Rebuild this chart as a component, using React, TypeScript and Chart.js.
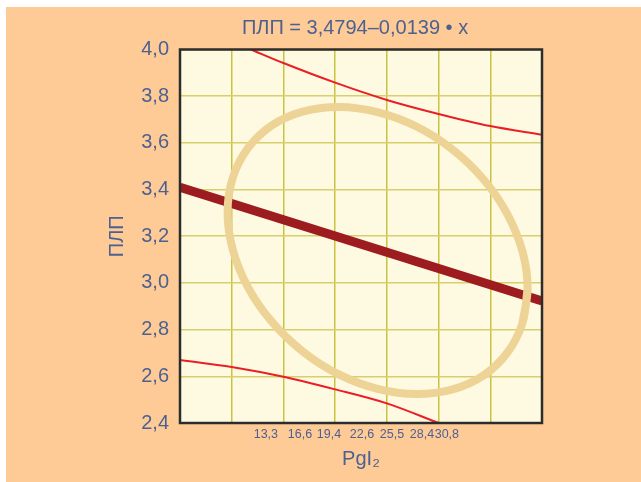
import React, { useEffect, useRef } from 'react';
import { Chart, registerables } from 'chart.js';

Chart.register(...registerables);

// ---- text ----
const titleText = 'ПЛП = 3,4794–0,0139 • x';
const yTitle = 'ПЛП';
const xTitle = 'PgI₂';

// ---- axes ----
const yMin = 2.4;
const yMax = 4.0;
const yStep = 0.2;
const xMin = 5;
const xMax = 40;
const xGridValues = [5, 10, 15, 20, 25, 30, 35, 40];
const xLabelValues = [13.3, 16.6, 19.4, 22.6, 25.5, 28.4, 30.8];

// ---- regression line ----
const regX = [5, 40];
const regY = [3.41, 2.923];

// ---- upper confidence curve ----
const upperX = [11.86, 15, 20, 25, 30, 35, 40];
const upperY = [4.0, 3.942, 3.858, 3.784, 3.724, 3.672, 3.635];

// ---- lower confidence curve ----
const lowerX = [5, 10, 15, 20, 25, 30];
const lowerY = [2.67, 2.64, 2.598, 2.544, 2.484, 2.4];

// ---- ellipse outline (points read around the drawn ellipse, closed) ----
const ellipseX = [
  38.61, 38.11, 36.66, 34.36, 31.36, 27.86, 24.1, 20.35, 16.85, 13.85, 11.55, 10.1,
  9.6, 10.1, 11.55, 13.85, 16.85, 20.35, 24.1, 27.86, 31.36, 34.36, 36.66, 38.11,
  38.61, 38.11,
];
const ellipseY = [
  2.976, 2.828, 2.702, 2.604, 2.544, 2.524, 2.546, 2.608, 2.707, 2.835, 2.983, 3.143,
  3.302, 3.45, 3.576, 3.674, 3.734, 3.754, 3.732, 3.67, 3.571, 3.443, 3.294, 3.135,
  2.976, 2.828,
];

const FONT = "'Liberation Sans', Arial, sans-serif";
const TEXT = '#4d6190';

const toPts = (xs: number[], ys: number[]) => xs.map((x, i) => ({ x, y: ys[i] }));
const fmt = (v: number, d: number) => v.toFixed(d).replace('.', ',');

export default function App() {
  const ref = useRef<HTMLCanvasElement>(null);

  useEffect(() => {
    if (!ref.current) return;

    const framePlugin = {
      id: 'plotFrame',
      beforeDraw(chart: any) {
        const { ctx, chartArea: a } = chart;
        ctx.save();
        ctx.fillStyle = '#FEFAE2';
        ctx.fillRect(a.left, a.top, a.right - a.left, a.bottom - a.top);
        ctx.restore();
      },
      afterDatasetsDraw(chart: any) {
        const { ctx, chartArea: a } = chart;
        ctx.save();
        ctx.strokeStyle = '#2c2c2c';
        ctx.lineWidth = 2.5;
        ctx.strokeRect(a.left, a.top, a.right - a.left, a.bottom - a.top);
        ctx.restore();
      },
    };

    const titleShift = {
      id: 'titleShift',
      afterLayout(chart: any) {
        const t = chart.titleBlock;
        if (t) {
          t.left -= 6;
          t.right -= 6;
        }
      },
    };

    const allXTicks = Array.from(new Set([...xGridValues, ...xLabelValues])).sort((a, b) => a - b);

    const chart = new Chart(ref.current, {
      type: 'scatter',
      data: {
        datasets: [
          {
            data: toPts(ellipseX, ellipseY),
            showLine: true,
            borderColor: '#EED396',
            borderWidth: 8,
            pointRadius: 0,
            tension: 0.34,
            order: 0,
          },
          {
            data: toPts(regX, regY),
            showLine: true,
            borderColor: '#9C1C1F',
            borderWidth: 9,
            pointRadius: 0,
            order: 1,
          },
          {
            data: toPts(upperX, upperY),
            showLine: true,
            borderColor: '#EA1F26',
            borderWidth: 2,
            pointRadius: 0,
            cubicInterpolationMode: 'monotone',
            order: 2,
          },
          {
            data: toPts(lowerX, lowerY),
            showLine: true,
            borderColor: '#EA1F26',
            borderWidth: 2,
            pointRadius: 0,
            cubicInterpolationMode: 'monotone',
            order: 2,
          },
        ],
      } as any,
      options: {
        animation: false,
        responsive: true,
        maintainAspectRatio: false,
        devicePixelRatio: 1,
        layout: { padding: { left: 0, right: 99, top: 0, bottom: 0 } },
        plugins: {
          legend: { display: false },
          tooltip: { enabled: false },
          title: {
            display: true,
            text: titleText,
            fullSize: false,
            color: TEXT,
            font: { family: FONT, size: 20, weight: 'normal', lineHeight: 1.2 },
            padding: { top: 9.4, bottom: 9.1 },
          },
        },
        scales: {
          x: {
            type: 'linear',
            min: xMin,
            max: xMax,
            afterBuildTicks: (s: any) => {
              s.ticks = allXTicks.map((v) => ({ value: v }));
            },
            ticks: {
              autoSkip: false,
              maxRotation: 0,
              padding: 4,
              color: TEXT,
              font: { family: FONT, size: 12.5 },
              callback: (v: any) => (xLabelValues.includes(Number(v)) ? fmt(Number(v), 1) : ''),
            },
            grid: {
              drawTicks: false,
              lineWidth: 1.5,
              color: (c: any) => (c.tick && xGridValues.includes(c.tick.value) ? '#CAC33F' : 'rgba(0,0,0,0)'),
            },
            border: { display: false },
            title: {
              display: true,
              text: xTitle,
              color: TEXT,
              font: { family: FONT, size: 20, lineHeight: 1.2 },
              padding: { top: 0, bottom: 11 },
            },
            afterFit: (s: any) => {
              s.height = 59;
            },
          },
          y: {
            type: 'linear',
            min: yMin,
            max: yMax,
            ticks: {
              stepSize: yStep,
              padding: 11,
              color: TEXT,
              font: { family: FONT, size: 20 },
              callback: (v: any) => fmt(Number(v), 1),
            },
            grid: {
              drawTicks: false,
              lineWidth: 1.5,
              color: '#D6CF6C',
            },
            border: { display: false },
            title: {
              display: true,
              text: yTitle,
              color: TEXT,
              font: { family: FONT, size: 20, lineHeight: 1.2 },
              padding: { top: 99, bottom: 0 },
            },
            afterFit: (s: any) => {
              s.width = 174;
            },
          },
        },
      } as any,
      plugins: [framePlugin, titleShift],
    });

    return () => chart.destroy();
  }, []);

  return (
    <div
      style={{
        position: 'absolute',
        left: 6,
        top: 7,
        width: 635,
        height: 475,
        background: '#FECB97',
      }}
    >
      <canvas ref={ref} />
    </div>
  );
}
